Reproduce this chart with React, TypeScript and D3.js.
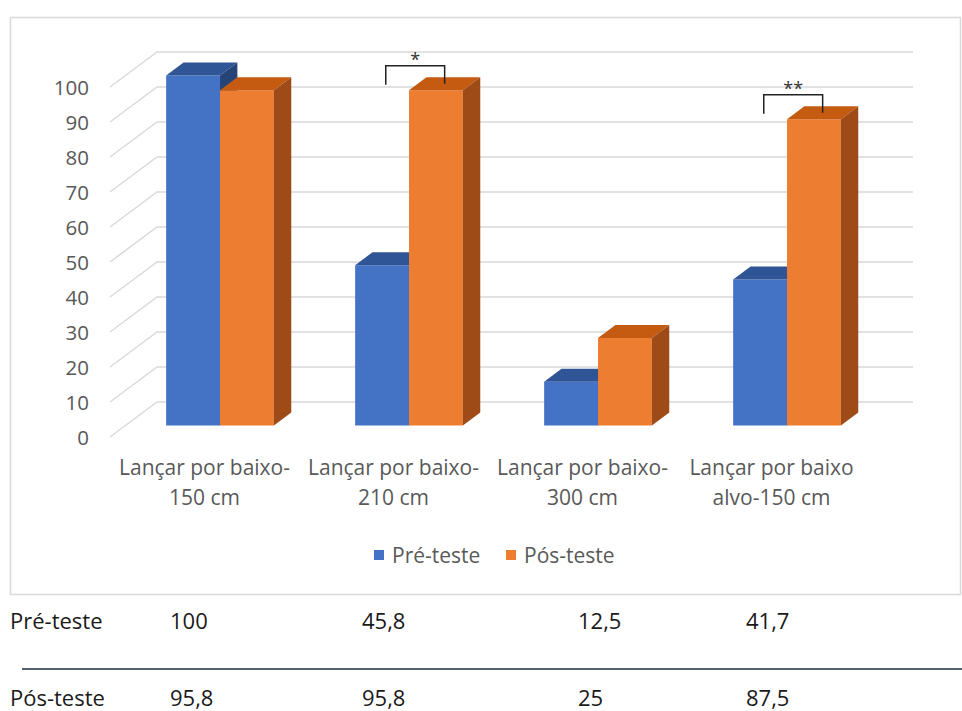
import React from "react";
import * as d3 from "d3";

const categoryLines: string[][] = [
  ["Lançar por baixo-", "150 cm"],
  ["Lançar por baixo-", "210 cm"],
  ["Lançar por baixo-", "300 cm"],
  ["Lançar por baixo", "alvo-150 cm"],
];
const seriesNames = ["Pré-teste", "Pós-teste"];
const preTeste = [100, 45.8, 12.5, 41.7];
const posTeste = [95.8, 95.8, 25, 87.5];
const yTicks = [0, 10, 20, 30, 40, 50, 60, 70, 80, 90, 100];
const significance = [
  { index: 1, label: "*" },
  { index: 3, label: "**" },
];

const W = 962;
const H = 711;
const FX = 110; // front-left x of plot
const FY0 = 437; // front zero y
const DX = 47; // depth offset x
const DY = 35; // depth offset y
const WALL_W = 756;
const D0 = 0.33;
const D1 = 0.7;
const FONT = "'Open Sans', sans-serif";
const TEXT_COLOR = "#595959";
const GRID = "#d9d9d9";

const colors = [
  { front: "#4472C4", top: "#2F5597", side: "#264478" },
  { front: "#ED7D31", top: "#C55A11", side: "#9E4B17" },
];

const tableColX = [170, 362, 578, 746];

export default function App() {
  const keys = categoryLines.map((_, i) => String(i));
  const x = d3
    .scaleBand<string>()
    .domain(keys)
    .range([0, WALL_W])
    .paddingInner(0.43)
    .paddingOuter(0.215);
  const xs = d3
    .scaleBand<string>()
    .domain(seriesNames)
    .range([0, x.bandwidth()]);
  const y = d3.scaleLinear().domain([0, 100]).range([0, 350]);

  const P = (wx: number, v: number, d: number): [number, number] => [
    FX + wx + d * DX,
    FY0 - y(v) - d * DY,
  ];
  const pts = (arr: [number, number][]) => arr.map((p) => p.join(",")).join(" ");

  const series = [preTeste, posTeste];
  const bars: any[] = [];
  keys.forEach((k, i) => {
    seriesNames.forEach((s, j) => {
      const v = series[j][i];
      const x0 = (x(k) as number) + (xs(s) as number);
      const x1 = x0 + xs.bandwidth();
      bars.push({ key: `${i}-${j}`, x0, x1, v, c: colors[j] });
    });
  });

  const fmt = (v: number) => String(v).replace(".", ",");

  return (
    <svg
      width={W}
      height={H}
      style={{ position: "absolute", left: 0, top: 0, background: "#fff" }}
      fontFamily={FONT}
    >
      <rect x={0} y={0} width={W} height={H} fill="#fff" />
      {/* chart frame */}
      <rect x={10.5} y={17.5} width={950} height={577} fill="none" stroke={GRID} strokeWidth={1.5} />

      {/* gridlines: side wall diagonals + back wall horizontals */}
      {yTicks.map((t) => {
        const a = P(0, t, 0);
        const b = P(0, t, 1);
        const c = P(WALL_W, t, 1);
        return (
          <polyline
            key={"g" + t}
            points={pts([a, b, c])}
            fill="none"
            stroke={GRID}
            strokeWidth={1.5}
          />
        );
      })}

      {/* y tick labels */}
      {yTicks.map((t) => {
        const a = P(0, t, 0);
        return (
          <text
            key={"t" + t}
            x={89}
            y={a[1]}
            textAnchor="end"
            dominantBaseline="central"
            fontSize={20.5}
            fill={TEXT_COLOR}
          >
            {t}
          </text>
        );
      })}

      {/* bars */}
      {bars.map((b) => (
        <g key={b.key}>
          <polygon
            points={pts([P(b.x0, 0, D0), P(b.x1, 0, D0), P(b.x1, b.v, D0), P(b.x0, b.v, D0)])}
            fill={b.c.front}
          />
          <polygon
            points={pts([P(b.x0, b.v, D0), P(b.x1, b.v, D0), P(b.x1, b.v, D1), P(b.x0, b.v, D1)])}
            fill={b.c.top}
          />
          <polygon
            points={pts([P(b.x1, 0, D0), P(b.x1, 0, D1), P(b.x1, b.v, D1), P(b.x1, b.v, D0)])}
            fill={b.c.side}
          />
        </g>
      ))}

      {/* significance brackets */}
      {significance.map((s) => {
        const k = keys[s.index];
        const dm = (D0 + D1) / 2;
        const lx = P((x(k) as number) + (xs(seriesNames[0]) as number) + xs.bandwidth() / 2, 0, dm)[0] - 5;
        const rTop = P((x(k) as number) + (xs(seriesNames[1]) as number) + xs.bandwidth() / 2, posTeste[s.index], dm);
        const rx = rTop[0];
        const topY = rTop[1] - 18;
        return (
          <g key={"s" + s.index}>
            <polyline
              points={pts([
                [lx, topY + 19],
                [lx, topY],
                [rx, topY],
                [rx, rTop[1]],
              ])}
              fill="none"
              stroke="#222"
              strokeWidth={1.5}
            />
            <text
              x={(lx + rx) / 2}
              y={topY - 7}
              textAnchor="middle"
              dominantBaseline="central"
              fontSize={18}
              fill="#333"
            >
              {s.label}
            </text>
          </g>
        );
      })}

      {/* category labels */}
      {keys.map((k, i) => {
        const cx = P((x(k) as number) + x.bandwidth() / 2, 0, 0)[0];
        return (
          <text key={"c" + i} textAnchor="middle" fontSize={21} fill={TEXT_COLOR}>
            {categoryLines[i].map((line, li) => (
              <tspan key={li} x={cx} y={467 + li * 30} dominantBaseline="central">
                {line}
              </tspan>
            ))}
          </text>
        );
      })}

      {/* legend */}
      {seriesNames.map((s, j) => {
        const lx = j === 0 ? 374 : 506;
        return (
          <g key={"l" + s}>
            <rect x={lx} y={550} width={10} height={10} fill={colors[j].front} />
            <text x={lx + 18} y={555} dominantBaseline="central" fontSize={21} fill={TEXT_COLOR}>
              {s}
            </text>
          </g>
        );
      })}

      {/* data table */}
      {seriesNames.map((s, j) => {
        const ry = j === 0 ? 620 : 697;
        return (
          <g key={"r" + s}>
            <text x={10} y={ry} dominantBaseline="central" fontSize={22} fill="#1a1a1a">
              {s}
            </text>
            {series[j].map((v, i) => (
              <text
                key={i}
                x={tableColX[i]}
                y={ry}
                dominantBaseline="central"
                fontSize={22}
                fill="#1a1a1a"
              >
                {fmt(v)}
              </text>
            ))}
          </g>
        );
      })}
      <line x1={22} x2={962} y1={669} y2={669} stroke="#56606b" strokeWidth={2} />
    </svg>
  );
}
